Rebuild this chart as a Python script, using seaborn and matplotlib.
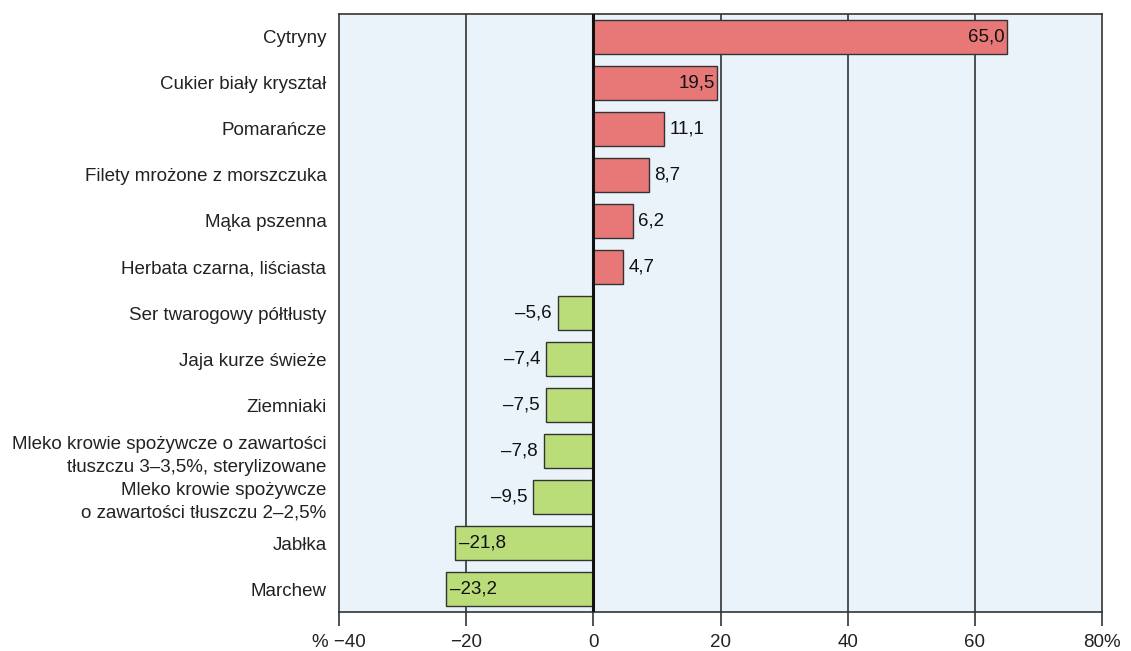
import matplotlib

matplotlib.use("Agg")

import matplotlib.pyplot as plt
import pandas as pd
import seaborn as sns

products = [
    "Cytryny",
    "Cukier biały kryształ",
    "Pomarańcze",
    "Filety mrożone z morszczuka",
    "Mąka pszenna",
    "Herbata czarna, liściasta",
    "Ser twarogowy półtłusty",
    "Jaja kurze świeże",
    "Ziemniaki",
    "Mleko krowie spożywcze o zawartości\ntłuszczu 3–3,5%, sterylizowane",
    "Mleko krowie spożywcze\no zawartości tłuszczu 2–2,5%",
    "Jabłka",
    "Marchew",
]
changes = [65.0, 19.5, 11.1, 8.7, 6.2, 4.7, -5.6, -7.4, -7.5, -7.8, -9.5, -21.8, -23.2]
x_ticks = [-40, -20, 0, 20, 40, 60, 80]
x_tick_labels = ["% \u221240", "\u221220", "0", "20", "40", "60", "80%"]

RED = "#E87878"
GREEN = "#BADD7A"
BG = "#EAF3FA"
FS = 13.5

sns.set_theme(style="white")
plt.rcParams["font.family"] = ["Liberation Sans", "DejaVu Sans"]

df = pd.DataFrame({"product": products, "change": changes})
df["sign"] = ["up" if v > 0 else "down" for v in df["change"]]

fig = plt.figure(figsize=(11.31, 6.51), dpi=100)
ax = fig.add_axes([0.2997, 0.0599, 0.6747, 0.9186])
ax.set_facecolor(BG)

for x in [-20, 20, 40, 60]:
    ax.axvline(x, color="#333333", linewidth=1.2, zorder=1)

sns.barplot(
    data=df,
    x="change",
    y="product",
    hue="sign",
    palette={"up": RED, "down": GREEN},
    saturation=1,
    orient="h",
    width=0.74,
    edgecolor="#333333",
    linewidth=1.0,
    legend=False,
    dodge=False,
    ax=ax,
    zorder=2,
)
ax.axvline(0, color="#111111", linewidth=2.2, zorder=3)

for i, v in enumerate(changes):
    txt = f"{abs(v):.1f}".replace(".", ",")
    if v < 0:
        txt = "\u2013" + txt
    if abs(v) > 15:
        if v > 0:
            ax.text(v - 0.3, i, txt, ha="right", va="center", fontsize=FS, color="#111111", zorder=4)
        else:
            ax.text(v + 0.6, i, txt, ha="left", va="center", fontsize=FS, color="#111111", zorder=4)
    else:
        if v > 0:
            ax.text(v + 0.9, i, txt, ha="left", va="center", fontsize=FS, color="#111111", zorder=4)
        else:
            ax.text(v - 0.9, i, txt, ha="right", va="center", fontsize=FS, color="#111111", zorder=4)

ax.set_xlim(-40, 80)
ax.set_ylim(12.5, -0.5)
ax.set_xticks(x_ticks)
ax.set_xticklabels(x_tick_labels, fontsize=FS, color="#222222")
ax.tick_params(axis="x", direction="out", length=10, width=1.2, color="#333333", pad=6, bottom=True)
ax.tick_params(axis="y", length=0, labelsize=FS, labelcolor="#222222", pad=9)
for lbl in ax.get_yticklabels():
    lbl.set_linespacing(1.45)
ax.set_xlabel("")
ax.set_ylabel("")
for side in ["left", "right", "top", "bottom"]:
    ax.spines[side].set_visible(True)
    ax.spines[side].set_color("#333333")
    ax.spines[side].set_linewidth(1.2)

fig.savefig("out.png", dpi=100)
plt.close(fig)
